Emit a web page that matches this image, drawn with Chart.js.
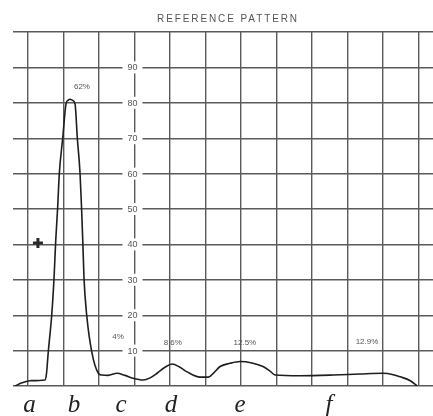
<!DOCTYPE html>
<html>
<head>
<meta charset="utf-8">
<script src="https://cdn.jsdelivr.net/npm/chart.js@4.4.1/dist/chart.umd.min.js"></script>
<style>
  html, body { margin: 0; padding: 0; background: #fff; }
  #wrap { width: 433px; height: 416px; }
</style>
</head>
<body>
<div id="wrap"><canvas id="c" width="433" height="416"></canvas></div>
<script>
// ---- data ----
const titleText = 'REFERENCE PATTERN';
const curveX = [-0.366, -0.17, 0.056, 0.479, 0.521, 0.572, 0.668, 0.733, 0.781, 0.837, 0.882, 0.978, 1.071, 1.127, 1.184, 1.254, 1.325, 1.390, 1.466, 1.508, 1.545, 1.578, 1.654, 1.795, 1.981, 2.077, 2.255, 2.508, 2.734, 2.959, 3.241, 3.44, 3.636, 3.86, 4.059, 4.28, 4.481, 4.848, 5.073, 5.24, 5.411, 5.69, 5.975, 6.31, 6.623, 6.82, 6.961, 7.666, 8.596, 9.357, 10.006, 10.29, 10.485, 10.77, 10.964];
const curveY = [0, 0.9, 1.5, 1.7, 3.5, 9.7, 20, 30.4, 41, 50.7, 60, 70, 79.7, 80.7, 81, 80.7, 79.7, 70, 60.1, 50.5, 40.5, 30.4, 20, 9.7, 3.6, 3.1, 3.0, 3.6, 3.0, 2.2, 1.7, 2.3, 3.6, 5.3, 6.2, 5.3, 4.0, 2.5, 2.5, 3.8, 5.5, 6.4, 6.9, 6.5, 5.5, 4.2, 3.1, 2.9, 3.1, 3.4, 3.6, 3.2, 2.6, 1.5, 0];
const markerX = [0.28];
const markerY = [40.4];
const yTickValues = [10, 20, 30, 40, 50, 60, 70, 80, 90];
const yLabelColumn = 3;
const xGridValues = [0, 1, 2, 3, 4, 5, 6, 7, 8, 9, 10, 11];
const letterLabels = ['a', 'b', 'c', 'd', 'e', 'f'];
const letterPos = [0.042, 1.296, 2.621, 4.03, 5.975, 8.48];
const peakLabels = ['62%', '4%', '8.6%', '12.5%', '12.9%'];
const peakLabelX = [1.52, 2.54, 4.08, 6.11, 9.55];
const peakLabelY = [84.5, 13.8, 12.1, 12.1, 12.4];

const X_MIN = -0.4225, X_MAX = 11.41;
const GRID = '#5a5a5a';

const noPad = s => { s.paddingLeft = 0; s.paddingRight = 0; s.paddingTop = 0; s.paddingBottom = 0; };

const overlay = {
  id: 'overlay',
  afterDraw(chart) {
    const ctx = chart.ctx;
    const xs = chart.scales.x, ys = chart.scales.y;
    ctx.save();
    // y labels in the middle of the grid
    ctx.font = '9px "Liberation Sans", Arial, sans-serif';
    ctx.textAlign = 'center';
    ctx.textBaseline = 'middle';
    const cx = xs.getPixelForValue(yLabelColumn) - 2;
    yTickValues.forEach(v => {
      const py = ys.getPixelForValue(v);
      ctx.fillStyle = '#fff';
      ctx.fillRect(cx - 10, py - 6, 20, 12);
      ctx.fillStyle = '#555';
      ctx.fillText(String(v), cx, py + 0.5);
    });
    // peak percentage labels
    ctx.font = '8px "Liberation Sans", Arial, sans-serif';
    ctx.fillStyle = '#555';
    peakLabels.forEach((t, i) => {
      ctx.fillText(t, xs.getPixelForValue(peakLabelX[i]), ys.getPixelForValue(peakLabelY[i]));
    });
    // title
    ctx.font = '10px "Liberation Sans", Arial, sans-serif';
    ctx.letterSpacing = '1.9px';
    ctx.fillStyle = '#555';
    ctx.fillText(titleText, 228, 19);
    ctx.restore();
  }
};

new Chart(document.getElementById('c'), {
  type: 'scatter',
  data: {
    datasets: [
      {
        data: curveX.map((x, i) => ({ x, y: curveY[i] })),
        showLine: true,
        borderColor: '#1e1e1e',
        borderWidth: 1.6,
        pointRadius: 0,
        cubicInterpolationMode: 'monotone',
        fill: false
      },
      {
        data: markerX.map((x, i) => ({ x, y: markerY[i] })),
        pointStyle: 'cross',
        pointRadius: 5,
        borderWidth: 3,
        borderColor: '#2a2a2a',
        backgroundColor: '#2a2a2a'
      }
    ]
  },
  options: {
    responsive: false,
    animation: false,
    devicePixelRatio: 1,
    layout: { autoPadding: false, padding: { left: 13, top: 32, right: 0, bottom: 0 } },
    plugins: { legend: { display: false }, tooltip: { enabled: false }, title: { display: false } },
    scales: {
      x: {
        type: 'linear', min: X_MIN, max: X_MAX, position: 'bottom',
        afterBuildTicks: s => { s.ticks = xGridValues.map(v => ({ value: v })); },
        ticks: { display: false },
        grid: { color: GRID, lineWidth: 1.4, drawTicks: false },
        border: { display: false },
        afterFit: s => { s.height = 0; noPad(s); }
      },
      x2: {
        type: 'linear', min: X_MIN, max: X_MAX, position: 'bottom',
        afterBuildTicks: s => { s.ticks = letterPos.map(v => ({ value: v })); },
        ticks: {
          autoSkip: false, maxRotation: 0, padding: 4,
          color: '#222',
          font: { family: '"Liberation Serif", serif', style: 'italic', size: 25 },
          callback: (v, i) => letterLabels[i]
        },
        grid: { display: false, drawTicks: false },
        border: { display: false },
        afterFit: s => { s.height = 30; noPad(s); }
      },
      y: {
        type: 'linear', min: 0, max: 100,
        ticks: { display: false, stepSize: 10 },
        grid: { color: GRID, lineWidth: 1.4, drawTicks: false },
        border: { display: false },
        afterFit: s => { s.width = 0; noPad(s); }
      }
    }
  },
  plugins: [overlay]
});
</script>
</body>
</html>
